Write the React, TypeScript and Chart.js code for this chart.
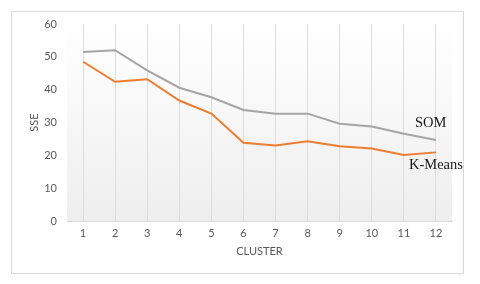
import React, { useEffect, useRef } from "react";
import { Chart, registerables } from "chart.js";

Chart.register(...registerables);

const clusters = ["1", "2", "3", "4", "5", "6", "7", "8", "9", "10", "11", "12"];
const somValues = [51.5, 52, 45.9, 40.6, 37.7, 33.8, 32.7, 32.7, 29.6, 28.8, 26.6, 24.7];
const kmeansValues = [48.5, 42.4, 43.2, 36.7, 32.7, 23.8, 23.0, 24.3, 22.8, 22.1, 20.1, 20.9];
const seriesLabels = ["SOM", "K-Means"];
const yTicks = [0, 10, 20, 30, 40, 50, 60];

const bgPlugin = {
  id: "bgGradient",
  beforeDraw(chart: any) {
    const { ctx, chartArea } = chart;
    if (!chartArea) return;
    const g = ctx.createLinearGradient(0, chartArea.top, 0, chartArea.bottom);
    g.addColorStop(0, "#ffffff");
    g.addColorStop(1, "#eeeeee");
    ctx.save();
    ctx.fillStyle = g;
    ctx.fillRect(chartArea.left, chartArea.top, chartArea.right - chartArea.left, chartArea.bottom - chartArea.top);
    ctx.restore();
  },
};

const labelPlugin = {
  id: "seriesLabels",
  afterDatasetsDraw(chart: any) {
    const { ctx } = chart;
    const xs = chart.scales.x;
    const ys = chart.scales.y;
    const last = clusters.length - 1;
    const px = xs.getPixelForValue(last);
    ctx.save();
    ctx.fillStyle = "#1a1a1a";
    ctx.font = "14.5px 'Liberation Serif', serif";
    ctx.textBaseline = "middle";
    ctx.textAlign = "left";
    ctx.fillText(seriesLabels[0], px - 21, ys.getPixelForValue(somValues[last]) - 17);
    ctx.fillText(seriesLabels[1], px - 27, ys.getPixelForValue(kmeansValues[last]) + 13);
    ctx.restore();
  },
};

export default function App() {
  const ref = useRef<HTMLCanvasElement | null>(null);
  useEffect(() => {
    if (!ref.current) return;
    const tickFont = { family: "Lato, 'Open Sans', sans-serif", size: 11 };
    const chart = new Chart(ref.current, {
      type: "line",
      data: {
        labels: clusters,
        datasets: [
          {
            label: seriesLabels[0],
            data: somValues,
            borderColor: "#a5a5a5",
            borderWidth: 2,
            pointRadius: 0,
            tension: 0,
          },
          {
            label: seriesLabels[1],
            data: kmeansValues,
            borderColor: "#ed7d31",
            borderWidth: 2,
            pointRadius: 0,
            tension: 0,
          },
        ],
      },
      options: {
        responsive: false,
        animation: false,
        layout: { padding: { top: 12, right: 11, left: 0, bottom: 0 } },
        plugins: { legend: { display: false }, tooltip: { enabled: false } },
        scales: {
          x: {
            offset: true,
            grid: { offset: false, color: "#dedede", drawTicks: false },
            border: { display: true, color: "#d9d9d9" },
            ticks: { color: "#595959", font: tickFont, padding: 6, maxRotation: 0 },
            title: { display: true, text: "CLUSTER", color: "#595959", font: { ...tickFont, size: 11 }, padding: { top: 0, bottom: 15 } },
            afterFit(scale: any) {
              scale.height = 52;
            },
          },
          y: {
            min: yTicks[0],
            max: yTicks[yTicks.length - 1],
            afterBuildTicks(scale: any) {
              scale.ticks = yTicks.map((v) => ({ value: v }));
            },
            grid: { display: false, drawTicks: true, tickLength: 8 },
            border: { display: false },
            ticks: { color: "#595959", font: tickFont, padding: 2 },
            title: { display: true, text: "SSE", color: "#595959", font: { ...tickFont, size: 11 }, padding: { top: 16, bottom: 0 } },
            afterFit(scale: any) {
              scale.width = 55;
            },
          },
        },
      },
      plugins: [bgPlugin, labelPlugin],
    });
    return () => chart.destroy();
  }, []);
  return (
    <div
      style={{
        position: "absolute",
        left: 11,
        top: 11,
        width: 453,
        height: 263,
        border: "1px solid #d9d9d9",
        boxSizing: "border-box",
        background: "#ffffff",
      }}
    >
      <canvas ref={ref} width={451} height={261} style={{ display: "block" }} />
    </div>
  );
}
